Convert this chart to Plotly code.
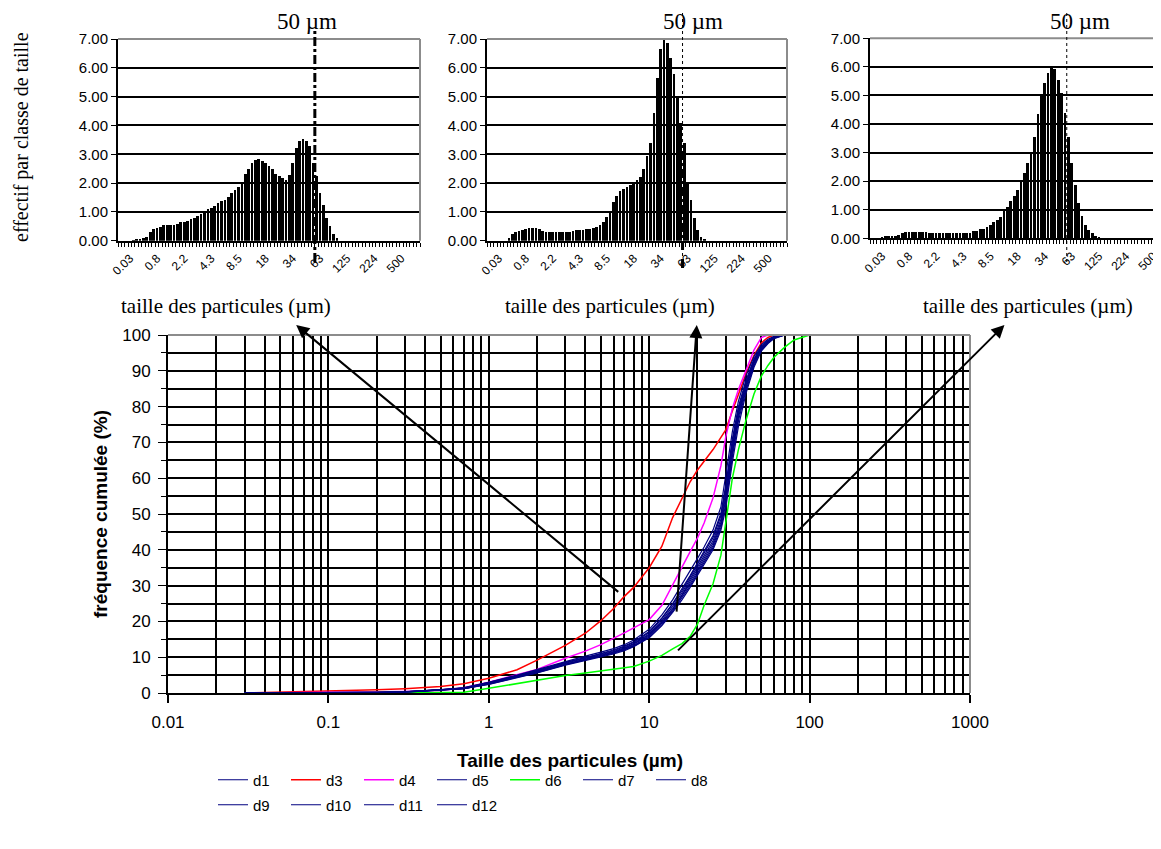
import math
import plotly.graph_objects as go

# page is 1161x849; the html body keeps an 8px margin, so the figure is a bit smaller
PAGE_W, PAGE_H = 1161, 849
OFF = 8
FW, FH = PAGE_W - OFF, PAGE_H - 2 * OFF
SANS = "Liberation Sans, Arial, sans-serif"
SERIF = "Liberation Serif, Times New Roman, serif"

# ---------------- cumulative curves (main chart) ----------------
sizes_um = [0.03, 0.05, 0.1, 0.2, 0.3, 0.5, 0.7, 1, 1.5, 2, 3, 4, 5, 6, 7, 8,
            10, 12, 14, 16, 18, 20, 22, 25, 28, 30, 33, 36, 40, 45, 50, 55, 60,
            70, 80, 100, 200, 500]

d1 = [0, 0, 0.05, 0.15, 0.3, 0.8, 1.3, 2.7, 4.6, 6.0, 8.3, 9.6, 10.6, 11.6, 12.6, 13.8,
      16.5, 20.2, 24.2, 28.0, 31.8, 35.3, 38.3, 42.5, 48.5, 56.0, 69.0, 78.5, 86.0, 92.6,
      96.5, 98.1, 99.3, 100, 100, 100, 100, 100]
d3 = [0, 0.2, 0.6, 0.9, 1.2, 1.8, 2.6, 4.1, 6.5, 9.2, 13.3, 16.7, 20.2, 23.6, 27.0, 29.5,
      35.0, 41.0, 49.0, 54.5, 59.0, 62.3, 64.8, 68.0, 71.4, 73.5, 78.8, 83.5, 89.0, 94.3,
      97.8, 99.3, 100, 100, 100, 100, 100, 100]
d4 = [0, 0.1, 0.2, 0.3, 0.4, 0.7, 1.5, 3.0, 5.0, 6.6, 9.7, 11.7, 13.5, 15.2, 16.8, 18.2,
      20.5, 24.5, 30.2, 35.5, 39.5, 43.3, 47.5, 54.5, 63.5, 71.5, 79.5, 84.8, 90.0, 95.8,
      99.3, 100, 100, 100, 100, 100, 100, 100]
d5 = [0, 0, 0.05, 0.2, 0.4, 0.9, 1.5, 3.0, 5.0, 6.6, 8.9, 10.3, 11.4, 12.4, 13.5, 14.8,
      17.8, 21.8, 26.0, 30.2, 34.0, 37.6, 40.8, 45.5, 52.0, 60.5, 73.0, 81.5, 88.5, 94.0,
      97.3, 98.8, 99.6, 100, 100, 100, 100, 100]
d6 = [0, 0, 0, 0, 0, 0, 0.2, 1.3, 2.7, 3.6, 4.9, 5.6, 6.2, 6.6, 6.9, 7.4,
      8.9, 10.5, 12.3, 13.8, 15.8, 19.2, 24.5, 30.5, 38.5, 48.0, 60.0, 68.0, 76.0, 83.5,
      88.5, 91.5, 93.8, 96.6, 98.6, 100, 100, 100]
d7 = [0, 0, 0.03, 0.1, 0.25, 0.7, 1.2, 2.4, 4.2, 5.6, 7.8, 9.1, 10.0, 10.9, 11.8, 12.9,
      15.4, 18.8, 22.5, 26.0, 29.5, 32.8, 35.8, 40.0, 45.5, 51.5, 64.5, 74.5, 83.5, 91.0,
      95.5, 97.6, 99.0, 100, 100, 100, 100, 100]
d8 = [0, 0, 0.05, 0.18, 0.35, 0.85, 1.4, 2.9, 4.8, 6.3, 8.6, 9.9, 11.0, 12.0, 13.1, 14.3,
      17.2, 21.0, 25.0, 29.0, 32.8, 36.4, 39.5, 44.0, 50.2, 58.0, 71.0, 80.0, 87.2, 93.3,
      96.9, 98.5, 99.5, 100, 100, 100, 100, 100]
d9 = [0, 0, 0.04, 0.12, 0.28, 0.75, 1.25, 2.6, 4.4, 5.8, 8.0, 9.3, 10.3, 11.2, 12.2, 13.3,
      15.9, 19.5, 23.3, 27.0, 30.6, 34.0, 37.0, 41.2, 47.0, 54.0, 67.0, 77.0, 85.0, 92.0,
      96.0, 97.9, 99.2, 100, 100, 100, 100, 100]
d10 = [0, 0, 0.05, 0.16, 0.32, 0.82, 1.35, 2.8, 4.7, 6.2, 8.5, 9.8, 10.8, 11.8, 12.9, 14.1,
       16.9, 20.8, 24.8, 28.6, 32.4, 36.0, 39.0, 43.4, 49.5, 57.2, 70.0, 79.3, 86.6, 93.0,
       96.7, 98.3, 99.4, 100, 100, 100, 100, 100]
d11 = [0, 0, 0.04, 0.14, 0.3, 0.78, 1.28, 2.65, 4.5, 5.9, 8.1, 9.4, 10.4, 11.4, 12.4, 13.6,
       16.2, 19.8, 23.6, 27.4, 31.2, 34.6, 37.6, 41.8, 47.7, 55.0, 68.0, 77.8, 85.6, 92.3,
       96.3, 98.0, 99.3, 100, 100, 100, 100, 100]
d12 = [0, 0, 0.03, 0.11, 0.26, 0.72, 1.22, 2.5, 4.3, 5.7, 7.9, 9.2, 10.2, 11.1, 12.0, 13.1,
       15.6, 19.1, 22.9, 26.5, 30.0, 33.4, 36.4, 40.6, 46.2, 52.8, 66.0, 76.0, 84.3, 91.5,
       95.8, 97.8, 99.1, 100, 100, 100, 100, 100]

series_names = ["d1", "d3", "d4", "d5", "d6", "d7", "d8", "d9", "d10", "d11", "d12"]
series_values = [d1, d3, d4, d5, d6, d7, d8, d9, d10, d11, d12]
series_colors = ["#000080", "#FF0000", "#FF00FF", "#000080", "#00FF00", "#000080",
                 "#000080", "#000080", "#000080", "#000080", "#000080"]

main_x_ticks = [0.01, 0.1, 1, 10, 100, 1000]

# ---------------- size-class histograms (top panels) ----------------
size_classes = [0.02, 0.023, 0.026, 0.03, 0.04, 0.06, 0.1, 0.15, 0.23, 0.35, 0.53, 0.8,
                0.9, 1.0, 1.2, 1.3, 1.5, 1.7, 1.9, 2.2, 2.4, 2.6, 2.8, 3.1, 3.3, 3.6,
                4.0, 4.3, 4.7, 5.1, 5.5, 6.0, 6.6, 7.2, 7.8, 8.5, 9.3, 10, 11, 12, 13,
                15, 16, 18, 19, 21, 22, 24, 26, 28, 31, 34, 37, 39, 41, 43, 45, 48, 52,
                63, 69, 75, 82, 89, 97, 105, 115, 125, 134, 144, 154, 165, 177, 190,
                207, 224, 248, 275, 305, 338, 374, 414, 456, 500, 550, 605, 665, 730, 800]
hist_tick_labels = ["0.03", "0.8", "2.2", "4.3", "8.5", "18", "34", "63", "125", "224", "500"]

hist_left = [0, 0, 0, 0, 0.01, 0.03, 0.05, 0.08, 0.14, 0.29, 0.41, 0.44, 0.49, 0.56, 0.56,
             0.56, 0.56, 0.58, 0.64, 0.66, 0.70, 0.76, 0.79, 0.85, 0.93, 1.02, 1.10, 1.14,
             1.22, 1.30, 1.37, 1.42, 1.53, 1.65, 1.77, 1.88, 2.03, 2.30, 2.50, 2.70, 2.81,
             2.85, 2.78, 2.70, 2.60, 2.48, 2.32, 2.25, 2.17, 2.10, 2.27, 2.70, 3.22, 3.45,
             3.52, 3.45, 3.30, 2.70, 2.23, 1.65, 1.25, 0.79, 0.50, 0.22, 0.08,
             0, 0, 0, 0, 0, 0, 0, 0, 0, 0, 0, 0, 0, 0, 0, 0, 0, 0, 0, 0, 0, 0, 0, 0]
hist_middle = [0, 0, 0, 0, 0, 0, 0.10, 0.25, 0.30, 0.34, 0.38, 0.42, 0.44, 0.45, 0.43,
               0.41, 0.35, 0.31, 0.30, 0.30, 0.30, 0.30, 0.30, 0.30, 0.31, 0.33, 0.36,
               0.37, 0.38, 0.39, 0.40, 0.44, 0.48, 0.56, 0.65, 0.82, 1.02, 1.33, 1.54,
               1.71, 1.80, 1.88, 1.95, 2.05, 2.12, 2.20, 2.50, 2.93, 3.40, 4.44, 5.63,
               6.67, 6.98, 6.86, 6.33, 5.78, 5.02, 4.09, 3.40, 2.00, 1.42, 0.80, 0.37,
               0.14, 0.06,
               0, 0, 0, 0, 0, 0, 0, 0, 0, 0, 0, 0, 0, 0, 0, 0, 0, 0, 0, 0, 0, 0, 0, 0]
hist_right = [0, 0, 0, 0.02, 0.04, 0.05, 0.06, 0.08, 0.10, 0.17, 0.22, 0.22, 0.22, 0.22,
              0.22, 0.22, 0.22, 0.19, 0.17, 0.17, 0.17, 0.17, 0.17, 0.17, 0.17, 0.17,
              0.17, 0.17, 0.17, 0.18, 0.23, 0.24, 0.31, 0.31, 0.38, 0.47, 0.55, 0.62,
              0.73, 0.93, 1.10, 1.28, 1.48, 1.69, 1.98, 2.27, 2.62, 2.97, 3.53, 4.35,
              5.03, 5.44, 5.77, 5.97, 5.91, 5.54, 5.07, 4.37, 3.55, 2.62, 1.86, 1.22,
              0.76, 0.47, 0.29, 0.17, 0.08, 0.03,
              0, 0, 0, 0, 0, 0, 0, 0, 0, 0, 0, 0, 0, 0, 0, 0, 0, 0, 0, 0, 0]
marker_size_um = 50


# ---------------- helpers (layout only; arguments are page pixels) ----------------
def px_x(px):
    return (px - OFF) / FW


def px_y(py):
    return 1 - (py - OFF) / FH


def dom_x(a, b):
    return [max(0.0, px_x(a)), min(1.0, px_x(b))]


def dom_y(top, bottom):
    return [px_y(bottom), px_y(top)]


def class_position(size):
    """position of a size on the class (category index) axis, log-interpolated"""
    for i in range(len(size_classes) - 1):
        a, b = size_classes[i], size_classes[i + 1]
        if a <= size <= b:
            return i + (math.log10(size) - math.log10(a)) / (math.log10(b) - math.log10(a))
    return 0


class_index = list(range(len(size_classes)))
tick_pos = [size_classes.index(float(t)) for t in hist_tick_labels]
marker_pos = class_position(marker_size_um)

fig = go.Figure()

for i, (name, vals, col) in enumerate(zip(series_names, series_values, series_colors)):
    fig.add_trace(go.Scatter(
        x=sizes_um, y=vals, mode="lines", name=name,
        line=dict(color=col, width=1.2 if col == "#000080" else 1.5),
        xaxis="x", yaxis="y",
        legend="legend" if i < 7 else "legend2",
    ))

for n, vals in zip([2, 3, 4], [hist_left, hist_middle, hist_right]):
    fig.add_trace(go.Bar(
        x=class_index, y=vals, customdata=size_classes,
        marker=dict(color="black", line=dict(width=0)), width=0.8,
        xaxis=f"x{n}", yaxis=f"y{n}", showlegend=False,
        hovertemplate="%{customdata} µm: %{y:.2f}<extra></extra>",
    ))

tickfont_main = dict(family=SANS, size=17, color="black")


def hist_xaxis(dom, rng, anchor):
    return dict(domain=dom, range=rng, anchor=anchor, automargin=False,
                tickmode="array", tickvals=tick_pos, ticktext=hist_tick_labels,
                tickangle=-45, tickfont=dict(family=SANS, size=12, color="black"),
                ticks="outside", ticklen=4, tickcolor="rgba(0,0,0,0)",
                minor=dict(tick0=-0.5, dtick=1, ticks="outside", ticklen=4,
                           tickcolor="black", tickwidth=1),
                showline=True, linecolor="black", linewidth=2,
                showgrid=False, zeroline=False)


def hist_yaxis(dom, anchor):
    return dict(domain=dom, range=[0, 7], anchor=anchor, dtick=1, tick0=0, automargin=False,
                tickformat=".2f", showgrid=True, gridcolor="black", gridwidth=1.5,
                ticks="outside", ticklen=5, tickcolor="black",
                showline=True, linecolor="black", linewidth=2, zeroline=False,
                tickfont=dict(family=SANS, size=15, color="black"))


legend_common = dict(orientation="h", xanchor="left", yanchor="middle",
                     font=dict(family=SANS, size=15, color="black"),
                     bgcolor="rgba(0,0,0,0)", entrywidth=28, entrywidthmode="pixels",
                     itemwidth=30, traceorder="normal")

fig.update_layout(
    width=FW, height=FH,
    margin=dict(l=0, r=0, t=0, b=0, pad=0, autoexpand=False),
    paper_bgcolor="white", plot_bgcolor="white",
    bargap=0,
    xaxis=dict(type="log", domain=dom_x(168, 970), range=[-2, 3], anchor="y",
               automargin=False,
               tickmode="array", tickvals=main_x_ticks,
               ticktext=[str(v) for v in main_x_ticks],
               showgrid=True, gridcolor="black", gridwidth=1.5,
               ticks="outside", ticklen=8, tickcolor="black", tickwidth=1.5,
               ticklabelstandoff=5,
               minor=dict(dtick="D1", showgrid=True, gridcolor="black", gridwidth=1.5,
                          ticks=""),
               showline=True, linecolor="black", linewidth=2, zeroline=False,
               tickfont=tickfont_main),
    yaxis=dict(domain=dom_y(335, 693), range=[0, 100], anchor="x", dtick=10, tick0=0,
               automargin=False,
               showgrid=True, gridcolor="black", gridwidth=1.5,
               ticks="outside", ticklen=8, tickcolor="black", ticklabelstandoff=4,
               minor=dict(dtick=5, showgrid=True, gridcolor="black", gridwidth=1.5,
                          ticks="outside", ticklen=5, tickcolor="black"),
               showline=True, linecolor="black", linewidth=2, zeroline=False,
               tickfont=tickfont_main),
    xaxis2=hist_xaxis(dom_x(118, 420), [-0.5, len(size_classes) - 0.5], "y2"),
    yaxis2=hist_yaxis(dom_y(39, 240.7), "x2"),
    xaxis3=hist_xaxis(dom_x(487, 787), [-0.5, len(size_classes) - 0.5], "y3"),
    yaxis3=hist_yaxis(dom_y(39, 240.7), "x3"),
    xaxis4=hist_xaxis(dom_x(870, 1161), [-0.5, 85.3], "y4"),
    yaxis4=hist_yaxis(dom_y(38.3, 238.3), "x4"),
    legend=dict(x=px_x(213), y=px_y(780), **legend_common),
    legend2=dict(x=px_x(213), y=px_y(805), **legend_common),
    showlegend=True,
)

# grey top / right borders of every plot area
shapes = []
for xr, yr in [("x", "y"), ("x2", "y2"), ("x3", "y3"), ("x4", "y4")]:
    shapes.append(dict(type="line", xref=f"{xr} domain", yref=f"{yr} domain",
                       x0=0, x1=1, y0=1, y1=1, line=dict(color="#8c8c8c", width=2)))
    shapes.append(dict(type="line", xref=f"{xr} domain", yref=f"{yr} domain",
                       x0=1, x1=1, y0=0, y1=1, line=dict(color="#8c8c8c", width=2)))

# 50 µm marker lines on the histograms
shapes.append(dict(type="line", xref="x2", yref="paper", x0=marker_pos, x1=marker_pos,
                   y0=px_y(262), y1=px_y(28), line=dict(color="black", width=3, dash="dashdot")))
shapes.append(dict(type="line", xref="x3", yref="paper", x0=marker_pos, x1=marker_pos,
                   y0=px_y(268), y1=px_y(12), line=dict(color="black", width=1, dash="dot")))
shapes.append(dict(type="line", xref="x3", yref="paper", x0=marker_pos, x1=marker_pos,
                   y0=px_y(268), y1=px_y(143), line=dict(color="black", width=3, dash="dash")))
shapes.append(dict(type="line", xref="x4", yref="paper", x0=marker_pos, x1=marker_pos,
                   y0=px_y(262), y1=px_y(12), line=dict(color="black", width=1, dash="dot")))
fig.update_layout(shapes=shapes)


def label(text, cx, cy, size, family=SANS, angle=0):
    return dict(text=text, xref="paper", yref="paper", x=px_x(cx), y=px_y(cy),
                xanchor="center", yanchor="middle", textangle=angle, showarrow=False,
                font=dict(family=family, size=size, color="black"))


ann = []
ann.append(label("<b>fréquence cumulée (%)</b>", 100, 514, 19, angle=-90))
ann.append(label("<b>Taille des particules (µm)</b>", 570, 760, 19))
for cx in (226, 610, 1028):
    ann.append(label("taille des particules (µm)", cx, 306, 21, family=SERIF))
ann.append(label("effectif par classe de taille", 21, 137, 20, family=SERIF, angle=-90))
for xr, shift in (("x2", -8), ("x3", 10), ("x4", 13)):
    ann.append(dict(text="50 µm", xref=xr, yref="paper", x=marker_pos, y=px_y(21),
                    xanchor="center", yanchor="middle", xshift=shift, showarrow=False,
                    font=dict(family=SERIF, size=23, color="black")))
# arrows linking curves to histograms (tail on the curve, head at the panel)
arrows = [((6.55, 27.9), (0.063, 102.8)),
          ((14.8, 22.3), (19.8, 102.8)),
          ((14.8, 11.5), (1640, 102.8))]
for (tx, ty), (hx, hy) in arrows:
    ann.append(dict(text="", xref="x", yref="y", axref="x", ayref="y",
                    x=math.log10(hx), y=hy, ax=math.log10(tx), ay=ty,
                    showarrow=True, arrowhead=2, arrowsize=1.3, arrowwidth=2,
                    arrowcolor="black"))
fig.update_layout(annotations=ann)

fig.write_html("out.html")
